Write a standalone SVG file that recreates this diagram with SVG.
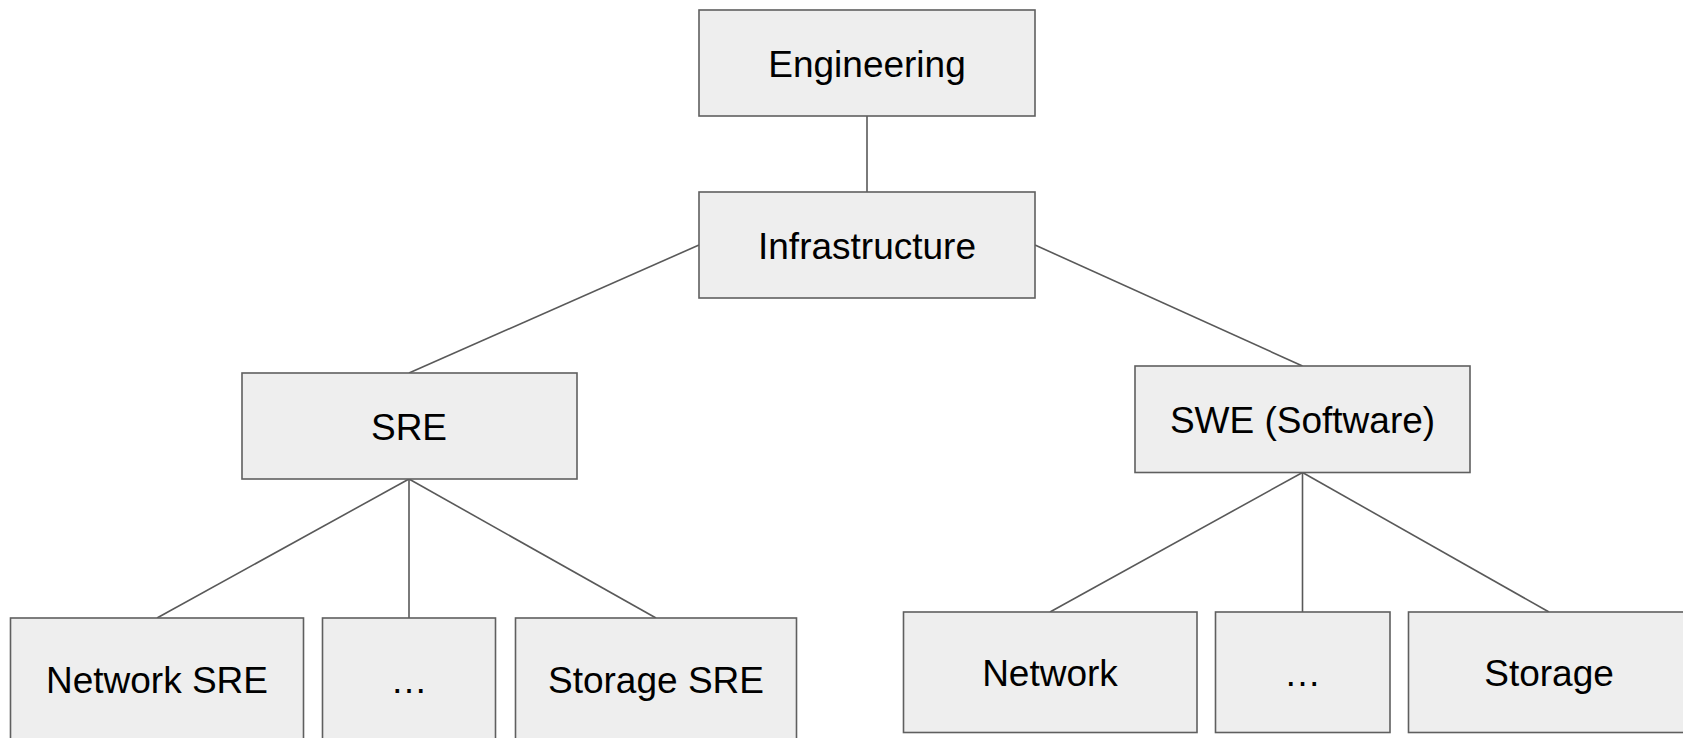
<svg xmlns="http://www.w3.org/2000/svg" width="1683" height="738" viewBox="0 0 1683 738">
<style>
.box{fill:#eeeeee;stroke:#5f5f5f;stroke-width:1.6}
.lbl{font-family:"Liberation Sans",Arial,sans-serif;font-size:37px;fill:#000;text-anchor:middle}
.edge{stroke:#595959;stroke-width:1.6;fill:none}
</style>
<rect width="1683" height="738" fill="#ffffff"/>
<g id="connectors">
<line class="edge" x1="867" y1="116" x2="867" y2="192"/>
<line class="edge" x1="699" y1="245" x2="409" y2="373"/>
<line class="edge" x1="1035" y1="245" x2="1302.5" y2="366"/>
<line class="edge" x1="409" y1="479" x2="157" y2="618"/>
<line class="edge" x1="409" y1="479" x2="409" y2="618"/>
<line class="edge" x1="409" y1="479" x2="656" y2="618"/>
<line class="edge" x1="1302.5" y1="472.5" x2="1050" y2="612"/>
<line class="edge" x1="1302.5" y1="472.5" x2="1302.5" y2="612"/>
<line class="edge" x1="1302.5" y1="472.5" x2="1549" y2="612"/>
</g>
<g id="engineering"><rect class="box" x="699" y="10" width="336" height="106"/><text class="lbl" x="867" y="76.5">Engineering</text></g>
<g id="infrastructure"><rect class="box" x="699" y="192" width="336" height="106"/><text class="lbl" x="867" y="258.5">Infrastructure</text></g>
<g id="sre"><rect class="box" x="242" y="373" width="335" height="106"/><text class="lbl" x="409" y="439.5">SRE</text></g>
<g id="swe"><rect class="box" x="1135" y="366" width="335" height="106.5"/><text class="lbl" x="1302.5" y="432.5">SWE (Software)</text></g>
<g id="network-sre"><rect class="box" x="10.5" y="618" width="293" height="122"/><text class="lbl" x="157" y="692.5">Network SRE</text></g>
<g id="sre-more"><rect class="box" x="322.5" y="618" width="173" height="122"/><text class="lbl" x="409" y="692.5">…</text></g>
<g id="storage-sre"><rect class="box" x="515.5" y="618" width="281" height="122"/><text class="lbl" x="656" y="692.5">Storage SRE</text></g>
<g id="network"><rect class="box" x="903.5" y="612" width="293.5" height="120.5"/><text class="lbl" x="1050" y="685.5">Network</text></g>
<g id="swe-more"><rect class="box" x="1215.5" y="612" width="174.5" height="120.5"/><text class="lbl" x="1302.5" y="685.5">…</text></g>
<g id="storage"><rect class="box" x="1408.5" y="612" width="281" height="120.5"/><text class="lbl" x="1549" y="685.5">Storage</text></g>
</svg>
